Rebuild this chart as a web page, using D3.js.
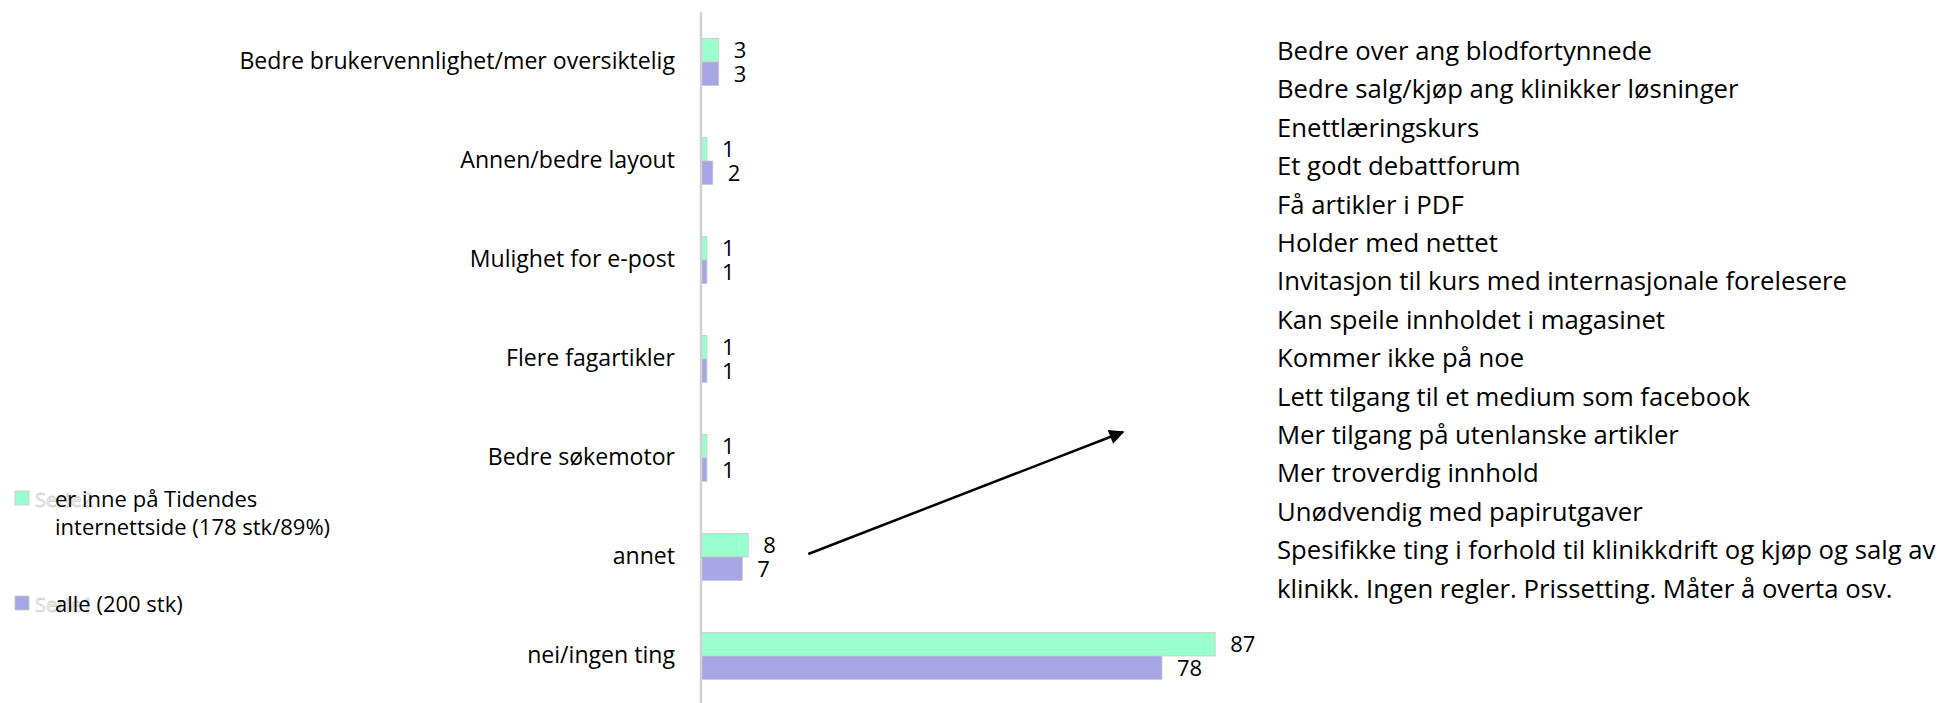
<!DOCTYPE html>
<html>
<head>
<meta charset="utf-8">
<script src="https://cdn.jsdelivr.net/npm/d3@7"></script>
<style>
  html, body { margin: 0; padding: 0; background: #fff; }
  svg { display: block; }
  text { font-family: "Open Sans", Lato, sans-serif; fill: #000; }
</style>
</head>
<body>
<svg id="chart" width="1939" height="703"></svg>
<script>
// ---- data ----
const categories = [
  "Bedre brukervennlighet/mer oversiktelig",
  "Annen/bedre layout",
  "Mulighet for e-post",
  "Flere fagartikler",
  "Bedre søkemotor",
  "annet",
  "nei/ingen ting"
];
const seriesNames = ["er inne på Tidendes internettside (178 stk/89%)", "alle (200 stk)"];
const legendLines1 = ["er inne på Tidendes", "internettside (178 stk/89%)"];
const legendLines2 = ["alle (200 stk)"];
const ghostNames = ["Serie2", "Serie1"];
const seriesInne = [3, 1, 1, 1, 1, 8, 87];
const seriesAlle = [3, 2, 1, 1, 1, 7, 78];
const annetComments = [
  "Bedre over ang blodfortynnede",
  "Bedre salg/kjøp ang klinikker løsninger",
  "Enettlæringskurs",
  "Et godt debattforum",
  "Få artikler i PDF",
  "Holder med nettet",
  "Invitasjon til kurs med internasjonale forelesere",
  "Kan speile innholdet i magasinet",
  "Kommer ikke på noe",
  "Lett tilgang til et medium som facebook",
  "Mer tilgang på utenlanske artikler",
  "Mer troverdig innhold",
  "Unødvendig med papirutgaver",
  "Spesifikke ting i forhold til klinikkdrift og kjøp og salg av",
  "klinikk. Ingen regler. Prissetting. Måter å overta osv."
];

// ---- layout ----
const svg = d3.select("#chart");
const colors = ["#99FFCC", "#A6A6E6"];
const x0 = 701;
const x = d3.scaleLinear().domain([0, 100]).range([x0, x0 + 591]);
const y = d3.scaleBand().domain(categories).range([12.5, 705.5])
  .paddingInner(0.525).paddingOuter(0.2625);
const bh = y.bandwidth() / 2;

const data = categories.map((c, i) => ({ c, vals: [seriesInne[i], seriesAlle[i]] }));

// bars
const g = svg.append("g");
data.forEach(d => {
  d.vals.forEach((v, k) => {
    g.append("rect")
      .attr("x", x(0))
      .attr("y", y(d.c) + k * bh)
      .attr("width", x(v) - x(0))
      .attr("height", bh)
      .attr("fill", colors[k])
      .attr("stroke", "#c9c9c9")
      .attr("stroke-width", 0.8);
    g.append("text")
      .attr("x", x(v) + 15)
      .attr("y", y(d.c) + k * bh + bh / 2)
      .attr("dy", "0.36em")
      .attr("font-size", 22)
      .text(v);
  });
});

// category axis labels
const yAxis = d3.axisLeft(y).tickSize(0).tickPadding(26);
const ax = svg.append("g").attr("transform", `translate(${x0},0)`).call(yAxis);
ax.select(".domain").remove();
ax.selectAll(".tick text")
  .attr("font-size", 23.1)
  .style("font-family", "'Open Sans', Lato, sans-serif")
  .attr("fill", "#111");
svg.append("line")
  .attr("x1", x0).attr("x2", x0)
  .attr("y1", 12).attr("y2", 703)
  .attr("stroke", "#d0d0d0").attr("stroke-width", 2.5);

// legend
const legend = svg.append("g");
const legendItems = [
  { lines: legendLines1, color: colors[0], ghost: ghostNames[0], top: 491 },
  { lines: legendLines2, color: colors[1], ghost: ghostNames[1], top: 596 }
];
legendItems.forEach(it => {
  legend.append("rect")
    .attr("x", 15).attr("y", it.top).attr("width", 14).attr("height", 14)
    .attr("fill", it.color).attr("stroke", "#c9c9c9").attr("stroke-width", 0.8);
  legend.append("text")
    .attr("x", 35).attr("y", it.top + 16)
    .attr("font-size", 20)
    .style("fill", "#fff").style("stroke", "#cfcfcf").style("stroke-width", 0.8)
    .text(it.ghost);
  it.lines.forEach((l, j) => {
    legend.append("text")
      .attr("x", 55).attr("y", it.top + 16 + j * 28)
      .attr("font-size", 22)
      .text(l);
  });
});

// comment list
const listX = 1277, listY0 = 60, listStep = 38.4;
const list = svg.append("g");
annetComments.forEach((t, i) => {
  list.append("text")
    .attr("x", listX).attr("y", listY0 + i * listStep)
    .attr("font-size", 25.7)
    .text(t);
});

// arrow from "annet" to the list
svg.append("defs").append("marker")
  .attr("id", "ah").attr("viewBox", "0 0 10 10")
  .attr("refX", 9).attr("refY", 5)
  .attr("markerWidth", 7).attr("markerHeight", 6)
  .attr("orient", "auto")
  .append("path").attr("d", "M0,0 L10,5 L0,10 z").attr("fill", "#000");
const annetIdx = categories.indexOf("annet");
const ax1 = x(seriesInne[annetIdx]) + 60;
const ay1 = y("annet") + bh - 3;
const ax2 = listX - 154;
const ay2 = listY0 + 10 * listStep - 12;
svg.append("line")
  .attr("x1", ax1).attr("y1", ay1).attr("x2", ax2).attr("y2", ay2)
  .attr("stroke", "#000").attr("stroke-width", 2.5)
  .attr("marker-end", "url(#ah)");
</script>
</body>
</html>
